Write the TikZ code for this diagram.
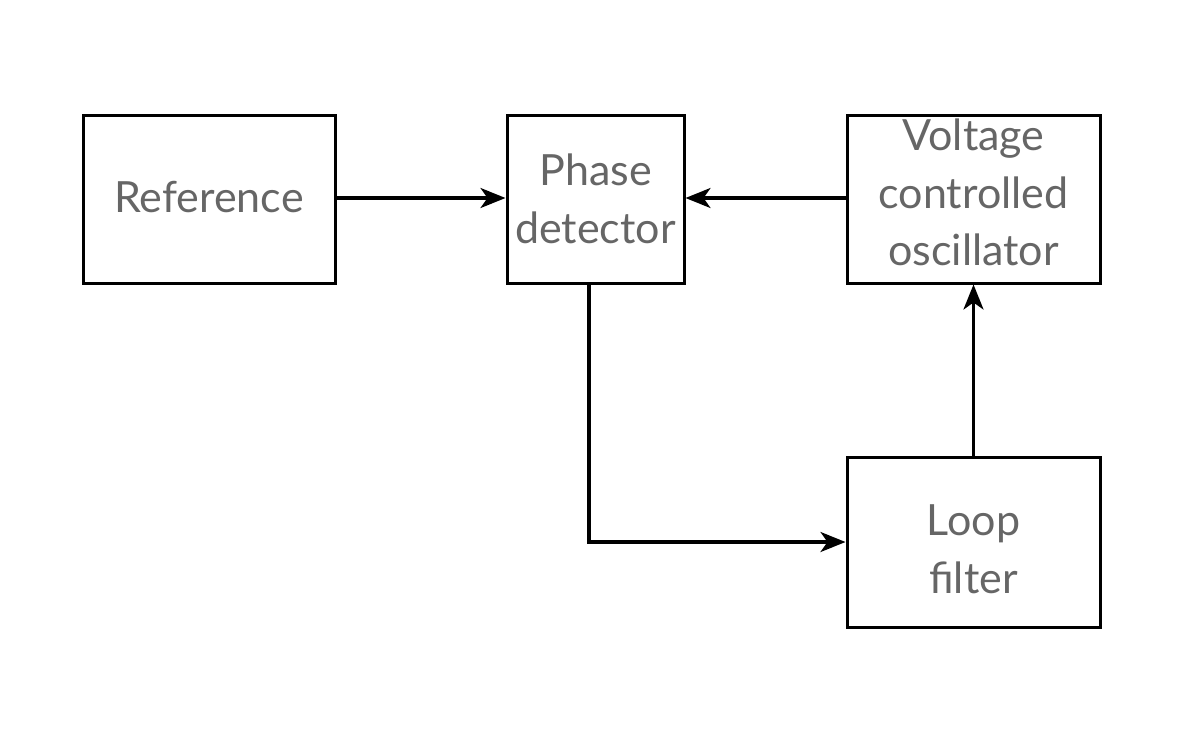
\documentclass[tikz,border=0pt]{standalone}
\usepackage{fontspec}
\setmainfont{Lato}
\usetikzlibrary{arrows.meta}
\definecolor{txt}{HTML}{666666}
\begin{document}
\begin{tikzpicture}[x=1pt,y=-1pt,
  blk/.style={draw=black, line width=3pt, minimum width=#1, inner sep=0pt},
  lbl/.style={text=txt, font=\fontsize{43}{58}\selectfont, anchor=base, inner sep=0pt},
  conn/.style={line width=3.2pt, -{Stealth[length=25pt,width=20pt,inset=7pt]}}]
\useasboundingbox (0,0) rectangle (1200,729);
\node[blk=252pt, minimum height=168pt] (ref) at (209,199) {};
\node[blk=177pt, minimum height=168pt] (pd) at (595.5,199) {};
\node[blk=253pt, minimum height=168pt] (vco) at (973.5,199) {};
\node[blk=253pt, minimum height=170pt] (lf) at (973.5,542) {};
\node[lbl] (refa) at (209,212) {Reference};
\node[lbl] (pda) at (595.5,185) {Phase};
\node[lbl] (pdb) at (595.5,243) {detector};
\node[lbl] (vcoa) at (973.5,150) {Voltage};
\node[lbl] (vcob) at (973.5,208) {controlled};
\node[lbl] (vcoc) at (973.5,265) {oscillator};
\node[lbl] (lfa) at (973.5,535) {Loop};
\node[lbl] (lfb) at (973.5,593) {filter};
\draw[conn] (ref.east |- 0,198) -- (pd.west |- 0,198);
\draw[conn] (vco.west |- 0,198) -- (pd.east |- 0,198);
\draw[conn] (pd.south -| 589,0) |- (lf.west |- 0,542);
\draw[conn] (lf.north) -- (vco.south);
\end{tikzpicture}
\end{document}
